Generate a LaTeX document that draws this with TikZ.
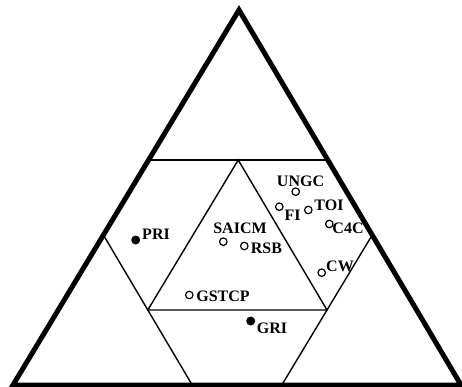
\documentclass[tikz,border=0pt]{standalone}
\usepackage{fontspec}
\setmainfont{Liberation Serif}
\usetikzlibrary{calc}

\begin{document}
\begin{tikzpicture}[x=1pt, y=-1pt,
	openpt/.style={draw, circle, line width=1.2pt, inner sep=0pt, minimum size=7.5pt},
	fullpt/.style={fill, circle, inner sep=0pt, minimum size=9pt},
	lbl/.style={inner sep=0pt, font=\fontsize{16}{19}\selectfont\bfseries}]
	\useasboundingbox (0,0) rectangle (462,387);

	\coordinate (V0) at (239,10);
	\coordinate (V1) at (13,385);
	\coordinate (V2) at (461,385);
	\draw [line width=5pt] (V0) -- (V1) -- (V2) -- cycle;

	\coordinate (H01) at (barycentric cs:V0=0.6,V1=0.4);
	\coordinate (H02) at (barycentric cs:V0=0.6,V2=0.4);
	\coordinate (H10) at (barycentric cs:V1=0.6,V0=0.4);
	\coordinate (H12) at (barycentric cs:V1=0.6,V2=0.4);
	\coordinate (H20) at (barycentric cs:V2=0.6,V0=0.4);
	\coordinate (H21) at (barycentric cs:V2=0.6,V1=0.4);
	\draw [line width=1.4pt] (H01) -- (H02);
	\draw [line width=1.4pt] (H10) -- (H12);
	\draw [line width=1.4pt] (H20) -- (H21);

	\coordinate (I0) at (barycentric cs:V0=0.6,V1=0.2,V2=0.2);
	\coordinate (I1) at (barycentric cs:V0=0.2,V1=0.6,V2=0.2);
	\coordinate (I2) at (barycentric cs:V0=0.2,V1=0.2,V2=0.6);
	\draw [line width=1.4pt] (I0) -- (I1) -- (I2) -- cycle;

	\node (NUNGC) at (295.7,191.7) [openpt] {};
	\node (LUNGC) at (300.5,181) [lbl] {UNGC};
	\node (NFI) at (279.3,206.7) [openpt] {};
	\node (LFI) at (292.5,215) [lbl] {FI};
	\node (NTOI) at (308.3,210) [openpt] {};
	\node (LTOI) at (329,205.5) [lbl] {TOI};
	\node (NC4C) at (329.3,224) [openpt] {};
	\node (LC4C) at (348,228.5) [lbl] {C4C};
	\node (NCW) at (321.7,272.7) [openpt] {};
	\node (LCW) at (340,266) [lbl] {CW};
	\node (NSAICM) at (223.3,241.7) [openpt] {};
	\node (LSAICM) at (240,228.5) [lbl] {SAICM};
	\node (NRSB) at (244.3,246) [openpt] {};
	\node (LRSB) at (266.5,248) [lbl] {RSB};
	\node (NGSTCP) at (189.3,295) [openpt] {};
	\node (LGSTCP) at (223,296) [lbl] {GSTCP};

	\node (NPRI) at (135.7,240) [fullpt] {};
	\node (LPRI) at (156,234) [lbl] {PRI};
	\node (NGRI) at (250.7,321) [fullpt] {};
	\node (LGRI) at (272,328) [lbl] {GRI};

\end{tikzpicture}
\end{document}
